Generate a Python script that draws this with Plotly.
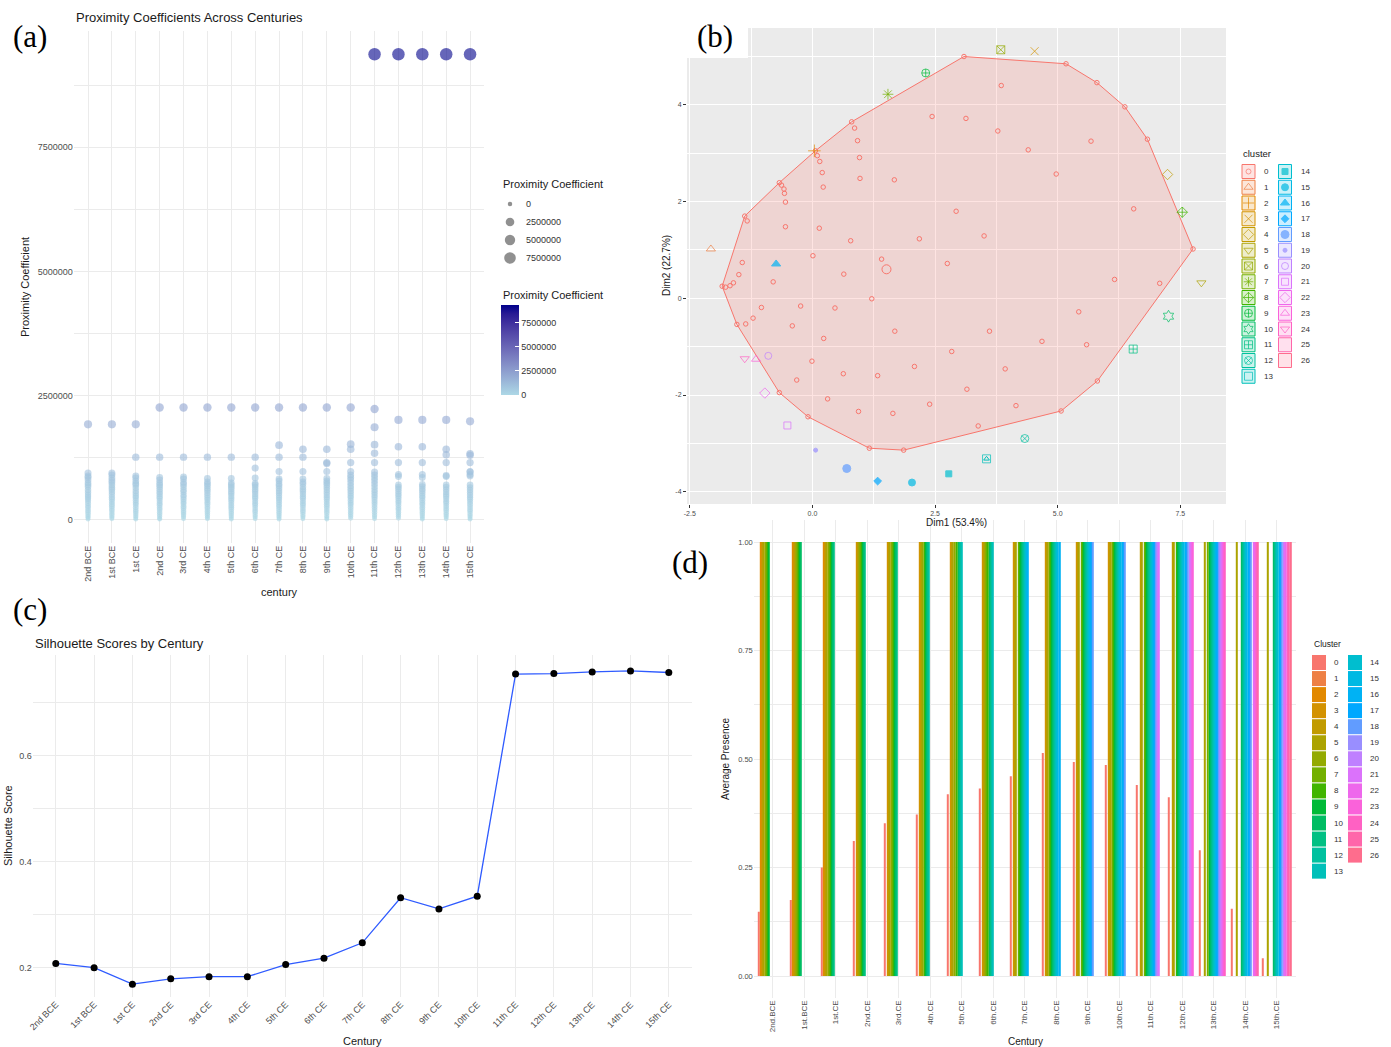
import math
import plotly.graph_objects as go

W, H = 1391, 1047

# ---------------- data ----------------
centuries = ["2nd BCE", "1st BCE", "1st CE", "2nd CE", "3rd CE", "4th CE", "5th CE", "6th CE",
             "7th CE", "8th CE", "9th CE", "10th CE", "11th CE", "12th CE", "13th CE", "14th CE", "15th CE"]

# (a) proximity coefficients, in millions, per century
prox_2nd_bce = [1.92, 0.94, 0.88, 0.85, 0.80, 0.74, 0.70, 0.66, 0.60, 0.55, 0.50, 0.46, 0.42, 0.38, 0.33, 0.28, 0.24, 0.19, 0.15, 0.11, 0.07, 0.04, 0.01]
prox_1st_bce = [1.92, 0.94, 0.90, 0.84, 0.79, 0.75, 0.70, 0.65, 0.61, 0.56, 0.51, 0.45, 0.41, 0.36, 0.31, 0.27, 0.22, 0.18, 0.13, 0.09, 0.05, 0.02]
prox_1st_ce = [1.92, 1.26, 0.88, 0.84, 0.78, 0.73, 0.70, 0.64, 0.58, 0.53, 0.48, 0.44, 0.39, 0.34, 0.30, 0.25, 0.20, 0.16, 0.12, 0.08, 0.04, 0.01]
prox_2nd_ce = [2.26, 1.26, 0.85, 0.80, 0.74, 0.70, 0.66, 0.61, 0.56, 0.52, 0.47, 0.43, 0.38, 0.33, 0.29, 0.24, 0.20, 0.15, 0.11, 0.07, 0.03, 0.01]
prox_3rd_ce = [2.26, 1.26, 0.86, 0.82, 0.75, 0.71, 0.66, 0.60, 0.56, 0.50, 0.46, 0.41, 0.36, 0.32, 0.27, 0.23, 0.18, 0.14, 0.10, 0.06, 0.02]
prox_4th_ce = [2.26, 1.26, 0.83, 0.76, 0.72, 0.68, 0.63, 0.59, 0.54, 0.49, 0.44, 0.40, 0.35, 0.31, 0.26, 0.22, 0.17, 0.13, 0.09, 0.05, 0.02]
prox_5th_ce = [2.26, 1.26, 0.83, 0.74, 0.70, 0.66, 0.62, 0.57, 0.53, 0.48, 0.43, 0.39, 0.34, 0.29, 0.25, 0.21, 0.16, 0.12, 0.08, 0.04, 0.01]
prox_6th_ce = [2.26, 1.26, 1.04, 0.84, 0.73, 0.70, 0.66, 0.61, 0.57, 0.52, 0.47, 0.43, 0.38, 0.33, 0.29, 0.24, 0.19, 0.15, 0.10, 0.06, 0.02]
prox_7th_ce = [2.26, 1.50, 1.26, 0.97, 0.82, 0.78, 0.72, 0.68, 0.63, 0.58, 0.54, 0.49, 0.44, 0.40, 0.35, 0.30, 0.26, 0.21, 0.16, 0.12, 0.08, 0.04, 0.01]
prox_8th_ce = [2.26, 1.42, 1.26, 0.97, 0.82, 0.76, 0.72, 0.66, 0.61, 0.57, 0.52, 0.47, 0.43, 0.38, 0.33, 0.29, 0.24, 0.19, 0.15, 0.10, 0.06, 0.02]
prox_9th_ce = [2.26, 1.42, 1.15, 1.13, 0.97, 0.83, 0.78, 0.74, 0.70, 0.65, 0.60, 0.55, 0.50, 0.45, 0.41, 0.36, 0.31, 0.27, 0.22, 0.17, 0.13, 0.08, 0.04, 0.01]
prox_10th_ce = [2.26, 1.52, 1.42, 1.15, 0.97, 0.90, 0.85, 0.80, 0.74, 0.68, 0.63, 0.58, 0.53, 0.48, 0.44, 0.39, 0.34, 0.30, 0.25, 0.20, 0.15, 0.11, 0.07, 0.03]
prox_11th_ce = [9.37, 2.23, 1.86, 1.51, 1.34, 1.15, 0.96, 0.90, 0.84, 0.78, 0.72, 0.66, 0.60, 0.55, 0.50, 0.45, 0.40, 0.35, 0.30, 0.25, 0.20, 0.15, 0.10, 0.06, 0.02]
prox_12th_ce = [9.37, 2.01, 1.47, 1.15, 0.91, 0.87, 0.70, 0.66, 0.62, 0.57, 0.52, 0.48, 0.43, 0.38, 0.34, 0.29, 0.24, 0.20, 0.15, 0.11, 0.07, 0.03]
prox_13th_ce = [9.37, 2.01, 1.47, 1.15, 0.91, 0.85, 0.71, 0.67, 0.62, 0.58, 0.53, 0.48, 0.44, 0.39, 0.34, 0.30, 0.25, 0.21, 0.16, 0.12, 0.08, 0.04, 0.01]
prox_14th_ce = [9.37, 2.01, 1.42, 1.31, 1.15, 0.89, 0.87, 0.70, 0.66, 0.61, 0.56, 0.51, 0.47, 0.42, 0.37, 0.33, 0.28, 0.23, 0.19, 0.14, 0.10, 0.06, 0.02]
prox_15th_ce = [9.37, 1.98, 1.33, 1.30, 1.15, 0.97, 0.96, 0.91, 0.88, 0.70, 0.65, 0.60, 0.55, 0.50, 0.45, 0.41, 0.36, 0.31, 0.26, 0.21, 0.17, 0.12, 0.08, 0.04, 0.01]
prox_by_century = [prox_2nd_bce, prox_1st_bce, prox_1st_ce, prox_2nd_ce, prox_3rd_ce, prox_4th_ce,
                   prox_5th_ce, prox_6th_ce, prox_7th_ce, prox_8th_ce, prox_9th_ce, prox_10th_ce,
                   prox_11th_ce, prox_12th_ce, prox_13th_ce, prox_14th_ce, prox_15th_ce]
prox_legend_values = [0, 2500000, 5000000, 7500000]

# (b) cluster plot (PCA coordinates)
cluster0_x = [-1.84, -1.38, -0.675, 0.06, 0.80, 3.09, 5.17, 5.80, 6.37, 6.83, 7.76, 5.81, 5.07, 1.86, 1.16, -0.09, -0.675, -1.54,
              3.85, 2.44, 3.13, 3.78, 4.40, 5.68, 4.97, 0.86, 0.92, 0.96, 0.97, 1.67, 0.10, 0.15, 0.20, 0.22,
              -0.63, -0.58, -0.57, -0.55, -1.33, -0.55, 0.14, 0.78, 2.18, 2.93, 3.50, 6.55, 6.16, -1.43, -1.50,
              0.01, 0.64, 1.41, 2.75, -1.77, -1.68, -1.61, -0.80, -1.04, -0.24, 0.46, 1.21, -1.36, -1.21, -0.41,
              0.23, 1.68, 3.61, 4.68, 5.59, 5.43, 7.08, -0.01, 2.08, 2.84, 3.93, -0.32, 0.63, 1.33, 3.15, 0.31,
              2.39, 4.15, 0.94, 1.64, 3.38]
cluster0_y = [0.25, 1.70, 2.39, 3.05, 3.65, 5.00, 4.85, 4.46, 3.96, 3.29, 1.02, -1.71, -2.33, -3.14, -3.10, -2.45, -1.95, -0.54,
              4.40, 3.76, 3.72, 3.46, 3.07, 3.25, 2.57, 3.52, 3.26, 2.91, 2.48, 2.45, 2.95, 2.83, 2.60, 2.30,
              2.34, 2.26, 2.17, 1.99, 1.60, 1.48, 1.45, 1.19, 1.23, 1.80, 1.29, 1.85, 0.39, 0.74, 0.49,
              0.88, 0.50, 0.81, 0.72, 0.23, 0.26, 0.32, 0.34, -0.19, -0.16, -0.20, -0.01, -0.53, -0.41, -0.57,
              -0.83, -0.68, -0.68, -0.89, -0.96, -0.28, 0.31, -1.30, -1.41, -1.10, -1.46, -1.69, -1.56, -1.60, -1.88, -2.08,
              -2.19, -2.22, -2.34, -2.38, -2.64]
cluster0_centre_x = [1.51]
cluster0_centre_y = [0.60]
outlier_clusters = [1, 2, 3, 4, 5, 6, 7, 8, 9, 10, 11, 12, 13, 14, 15, 16, 17, 18, 19, 20, 21, 22, 23, 24]
outlier_x = [-2.07, 0.04, 4.53, 7.24, 7.93, 3.84, 1.54, 7.54, 2.31, 7.26, 6.54, 4.33, 3.55, 2.78, 2.03, -0.74, 1.33, 0.70, 0.065, -0.90, -0.51, -0.97, -1.15, -1.38]
outlier_y = [1.02, 3.05, 5.11, 2.56, 0.32, 5.14, 4.22, 1.78, 4.66, -0.37, -1.05, -2.90, -3.32, -3.63, -3.81, 0.71, -3.78, -3.52, -3.14, -1.19, -2.63, -1.96, -1.26, -1.25]
dim1_label = "Dim1 (53.4%)"
dim2_label = "Dim2 (22.7%)"

# (c) silhouette scores
silhouette = [0.208, 0.200, 0.169, 0.179, 0.183, 0.183, 0.206, 0.218, 0.247, 0.332, 0.311, 0.335,
              0.754, 0.755, 0.758, 0.760, 0.757]

# (d) average presence of clusters per century
cluster_ids = list(range(27))
cluster0_presence = [0.148, 0.175, 0.25, 0.311, 0.352, 0.372, 0.419, 0.432, 0.46, 0.514, 0.493, 0.486,
                     0.44, 0.412, 0.29, 0.155, 0.041]
present_clusters = [
    [2, 3, 4, 5, 6, 7, 8, 9],
    [2, 3, 4, 5, 6, 7, 8, 9, 10],
    [2, 3, 4, 5, 6, 7, 8, 9, 10, 11],
    [3, 4, 5, 6, 7, 8, 9, 10, 11],
    [3, 4, 5, 6, 7, 8, 9, 10, 11],
    [3, 4, 5, 6, 8, 9, 10, 11, 12],
    [3, 4, 5, 6, 8, 10, 11, 12, 13],
    [3, 4, 5, 6, 7, 8, 10, 11, 12, 13],
    [3, 4, 5, 7, 8, 9, 10, 11, 12, 13, 14, 15, 16],
    [3, 4, 5, 7, 8, 9, 10, 11, 12, 13, 14, 15, 16],
    [3, 4, 5, 7, 8, 9, 10, 11, 12, 13, 14, 15, 16, 17, 18],
    [3, 4, 5, 7, 8, 9, 10, 11, 12, 13, 14, 15, 16, 17, 18],
    [4, 5, 7, 8, 9, 10, 11, 12, 13, 14, 15, 16, 17, 18, 19, 20, 21],
    [4, 5, 8, 9, 10, 11, 12, 13, 14, 15, 16, 17, 18, 20, 21, 22, 23],
    [5, 7, 9, 10, 11, 12, 13, 14, 15, 16, 17, 18, 19, 20, 21, 22, 23, 24],
    [5, 10, 11, 12, 13, 14, 15, 16, 17, 18, 21, 22, 23, 24, 25],
    [5, 10, 11, 12, 13, 14, 16, 17, 18, 20, 21, 22, 24, 25, 26],
]

# ---------------- helpers ----------------
def px(x):
    return x / W


def py(y):
    return 1 - y / H


def hcl_hex(h, c, l):
    hr = math.radians(h)
    u, v = c * math.cos(hr), c * math.sin(hr)
    Xn, Yn, Zn = 95.047, 100.0, 108.883
    den = Xn + 15 * Yn + 3 * Zn
    un, vn = 4 * Xn / den, 9 * Yn / den
    Y = Yn * ((l + 16) / 116) ** 3 if l > 8 else Yn * l / 903.3
    up, vp = u / (13 * l) + un, v / (13 * l) + vn
    X = Y * 9 * up / (4 * vp)
    Z = Y * (12 - 3 * up - 20 * vp) / (4 * vp)
    return xyz_hex(X / 100, Y / 100, Z / 100)


def xyz_hex(X, Y, Z):
    r = 3.2404542 * X - 1.5371385 * Y - 0.4985314 * Z
    g = -0.9692660 * X + 1.8760108 * Y + 0.0415560 * Z
    b = 0.0556434 * X - 0.2040259 * Y + 1.0572252 * Z

    def gam(t):
        t = max(0.0, min(1.0, t))
        return 12.92 * t if t <= 0.0031308 else 1.055 * t ** (1 / 2.4) - 0.055
    return "#%02X%02X%02X" % tuple(int(round(255 * gam(t))) for t in (r, g, b))


def hex_lab(hx):
    rgb = [int(hx[i:i + 2], 16) / 255 for i in (1, 3, 5)]
    lin = [t / 12.92 if t <= 0.04045 else ((t + 0.055) / 1.055) ** 2.4 for t in rgb]
    X = 0.4124564 * lin[0] + 0.3575761 * lin[1] + 0.1804375 * lin[2]
    Y = 0.2126729 * lin[0] + 0.7151522 * lin[1] + 0.0721750 * lin[2]
    Z = 0.0193339 * lin[0] + 0.1191920 * lin[1] + 0.9503041 * lin[2]
    xn, yn, zn = 0.95047, 1.0, 1.08883

    def f(t):
        return t ** (1 / 3) if t > 0.008856 else 7.787 * t + 16 / 116
    fx, fy, fz = f(X / xn), f(Y / yn), f(Z / zn)
    return 116 * fy - 16, 500 * (fx - fy), 200 * (fy - fz)


def lab_hex(L, a, b):
    fy = (L + 16) / 116
    fx, fz = fy + a / 500, fy - b / 200

    def finv(t):
        return t ** 3 if t ** 3 > 0.008856 else (t - 16 / 116) / 7.787
    return xyz_hex(0.95047 * finv(fx), finv(fy), 1.08883 * finv(fz))


def hex_rgba(hx, a):
    return "rgba(%d,%d,%d,%s)" % (int(hx[1:3], 16), int(hx[3:5], 16), int(hx[5:7], 16), a)


def convex_hull(pts):
    pts = sorted(set(pts))

    def cross(o, a, b):
        return (a[0] - o[0]) * (b[1] - o[1]) - (a[1] - o[1]) * (b[0] - o[0])
    lower, upper = [], []
    for p in pts:
        while len(lower) >= 2 and cross(lower[-2], lower[-1], p) <= 0:
            lower.pop()
        lower.append(p)
    for p in reversed(pts):
        while len(upper) >= 2 and cross(upper[-2], upper[-1], p) <= 0:
            upper.pop()
        upper.append(p)
    return lower[:-1] + upper[:-1]


palette = [hcl_hex(15 + 360 * k / 27, 100, 65) for k in range(27)]

FONT = "Liberation Sans, Arial, sans-serif"
SERIF = "Liberation Serif, Times New Roman, serif"
TICK = "#4D4D4D"
GRID = "#EBEBEB"

annotations = []
shapes = []


def ann(text, x, y, size, xanchor="center", yanchor="middle", angle=0, color="#1A1A1A", family=FONT):
    annotations.append(dict(text=text, x=px(x), y=py(y), xref="paper", yref="paper", showarrow=False,
                            xanchor=xanchor, yanchor=yanchor, textangle=angle,
                            font=dict(size=size, color=color, family=family)))


traces = []

# ---------------- (a) ----------------
lab0, lab1 = hex_lab("#ADD8E6"), hex_lab("#00008B")
colorscale = []
for i in range(11):
    t = i / 10
    colorscale.append([t, lab_hex(*[lab0[j] + (lab1[j] - lab0[j]) * t for j in range(3)])])

a_x, a_y = [], []
for c, vals in zip(centuries, prox_by_century):
    for v in vals:
        a_x.append(c)
        a_y.append(v * 1e6)
PC_MAX = max(a_y)


def pc_size(v):
    return 4.5 + 8 * math.sqrt(v / PC_MAX)


traces.append(go.Scatter(
    x=a_x, y=a_y, mode="markers", xaxis="x", yaxis="y",
    marker=dict(size=[pc_size(v) for v in a_y], color=a_y, colorscale=colorscale, cmin=0, cmax=PC_MAX,
                opacity=0.6, line=dict(width=0),
                colorbar=dict(x=px(501), xanchor="left", xpad=0, y=py(350), yanchor="middle", ypad=0,
                              len=90, lenmode="pixels", thickness=18, thicknessmode="pixels",
                              outlinewidth=0, tickvals=prox_legend_values,
                              ticktext=[str(v) for v in prox_legend_values],
                              ticks="inside", ticklen=4, tickcolor="white",
                              tickfont=dict(size=9, color="#333333", family=FONT)))))

# size legend (overlay pixel axis)
size_leg_y = [204, 222, 240, 258]
traces.append(go.Scatter(x=[510] * 4, y=size_leg_y, mode="markers", xaxis="x5", yaxis="y5",
                         marker=dict(size=[pc_size(v) for v in prox_legend_values], color="rgba(0,0,0,0.62)",
                                     line=dict(width=0))))
for v, yy in zip(prox_legend_values, size_leg_y):
    ann(str(v), 524, yy, 9, xanchor="left", color="#333333")
ann("Proximity Coefficient", 501, 184, 11, xanchor="left")
ann("Proximity Coefficient", 501, 295, 11, xanchor="left")
ann("Proximity Coefficients Across Centuries", 74, 18, 13, xanchor="left")
ann("Proximity Coefficient", 25, 287, 11, angle=-90)
ann("century", 279, 592, 11)

# ---------------- (b) ----------------
hull = convex_hull(list(zip(cluster0_x, cluster0_y)))
hull.append(hull[0])
traces.append(go.Scatter(x=[p[0] for p in hull], y=[p[1] for p in hull], mode="lines", fill="toself",
                         fillcolor=hex_rgba(palette[0], 0.2), line=dict(color=palette[0], width=1),
                         xaxis="x2", yaxis="y2"))
traces.append(go.Scatter(x=cluster0_x, y=cluster0_y, mode="markers", xaxis="x2", yaxis="y2",
                         marker=dict(symbol="circle-open", size=4.5, color=palette[0],
                                     line=dict(width=1, color=palette[0]))))
traces.append(go.Scatter(x=cluster0_centre_x, y=cluster0_centre_y, mode="markers", xaxis="x2", yaxis="y2",
                         marker=dict(symbol="circle-open", size=9, color=palette[0],
                                     line=dict(width=1, color=palette[0]))))

cluster_symbols = ["circle-open", "triangle-up-open", "cross-thin-open", "x-thin-open", "diamond-open",
                   "triangle-down-open", "square-x-open", "asterisk-open", "diamond-cross-open",
                   "circle-cross-open", "hexagram-open", "square-cross-open", "circle-x-open",
                   "square-open", "square", "circle", "triangle-up", "diamond", "circle", "circle",
                   "circle-open", "square-open", "diamond-open", "triangle-up-open", "triangle-down-open",
                   None, None]
cluster_sizes = [5, 8, 9, 8, 8, 8, 8, 9, 8, 8, 9, 8, 8, 8, 6, 7, 8, 6, 8, 4, 7, 7, 8, 8, 8, 0, 0]

traces.append(go.Scatter(
    x=outlier_x, y=outlier_y, mode="markers", xaxis="x2", yaxis="y2",
    marker=dict(symbol=[cluster_symbols[k] for k in outlier_clusters],
                size=[cluster_sizes[k] for k in outlier_clusters],
                color=[palette[k] for k in outlier_clusters],
                line=dict(width=1, color=[palette[k] for k in outlier_clusters]))))
i13 = outlier_clusters.index(13)
traces.append(go.Scatter(x=[outlier_x[i13]], y=[outlier_y[i13]], mode="markers", xaxis="x2", yaxis="y2",
                         marker=dict(symbol="triangle-up-open", size=5, color=palette[13],
                                     line=dict(width=1, color=palette[13]))))

# panel background and label box
shapes.append(dict(type="rect", xref="paper", yref="paper", x0=px(687), x1=px(1226), y0=py(504), y1=py(28),
                   fillcolor="#EBEBEB", line=dict(width=0), layer="below"))
shapes.append(dict(type="rect", xref="paper", yref="paper", x0=px(679), x1=px(748), y0=py(58), y1=py(0),
                   fillcolor="white", line=dict(width=0), layer="above"))

# (b) legend
leg_b_x, leg_b_y, leg_b_sym, leg_b_size, leg_b_col = [], [], [], [], []
for k in cluster_ids:
    col, row = (0, k) if k <= 13 else (1, k - 14)
    x0 = 1242 + 36.5 * col
    yc = 171.5 + 15.75 * row
    shapes.append(dict(type="rect", xref="paper", yref="paper", x0=px(x0), x1=px(x0 + 13),
                       y0=py(yc + 7), y1=py(yc - 7), fillcolor=hex_rgba(palette[k], 0.2),
                       line=dict(color=palette[k], width=1), layer="above"))
    ann(str(k), x0 + 20, yc, 8, xanchor="left", color="#333333")
    if cluster_symbols[k] is not None:
        leg_b_x.append(x0 + 6.5)
        leg_b_y.append(yc)
        leg_b_sym.append(cluster_symbols[k])
        leg_b_size.append(min(cluster_sizes[k], 8))
        leg_b_col.append(palette[k])
traces.append(go.Scatter(x=leg_b_x, y=leg_b_y, mode="markers", xaxis="x5", yaxis="y5",
                         marker=dict(symbol=leg_b_sym, size=leg_b_size, color=leg_b_col,
                                     line=dict(width=1, color=leg_b_col))))
ann("cluster", 1241, 154, 9.5, xanchor="left")
ann(dim1_label, 956.5, 522, 10)
ann(dim2_label, 666, 266, 10, angle=-90)

# ---------------- (c) ----------------
traces.append(go.Scatter(x=centuries, y=silhouette, mode="lines", xaxis="x3", yaxis="y3",
                         line=dict(color="#2F5BFF", width=1.3)))
traces.append(go.Scatter(x=centuries, y=silhouette, mode="markers", xaxis="x3", yaxis="y3",
                         marker=dict(color="black", size=7)))
ann("Silhouette Scores by Century", 33, 643, 13, xanchor="left")
ann("Silhouette Score", 8, 826, 11, angle=-90)
ann("Century", 362, 1041, 11)

# ---------------- (d) ----------------
d_labels = [c.replace(" ", ".") for c in centuries]
for k in cluster_ids:
    if k == 0:
        yv = cluster0_presence
    else:
        yv = [1.0 if k in pcs else 0.0 for pcs in present_clusters]
    traces.append(go.Bar(x=d_labels, y=yv, xaxis="x4", yaxis="y4", marker=dict(color=palette[k], line=dict(width=0))))

for k in cluster_ids:
    col, row = (0, k) if k <= 13 else (1, k - 14)
    x0 = 1312 + 36 * col
    yc = 662.5 + 16.05 * row
    shapes.append(dict(type="rect", xref="paper", yref="paper", x0=px(x0), x1=px(x0 + 14),
                       y0=py(yc + 7.5), y1=py(yc - 7.5), fillcolor=palette[k], line=dict(width=0), layer="above"))
    ann(str(k), x0 + 20, yc, 8, xanchor="left", color="#333333")
ann("Cluster", 1312, 644, 8.5, xanchor="left")
ann("Average Presence", 725, 759, 10, angle=-90)
ann("Century", 1025, 1041, 10)

# panel tags
ann("(a)", 29.5, 37, 31, family=SERIF, color="black")
ann("(b)", 715, 37, 31, family=SERIF, color="black")
ann("(c)", 29.5, 609, 31, family=SERIF, color="black")
ann("(d)", 690, 562, 31, family=SERIF, color="black")

# ---------------- layout ----------------
common = dict(zeroline=False, showline=False, ticks="", tickfont=dict(size=9, color=TICK, family=FONT),
              gridcolor=GRID, gridwidth=1)

layout = go.Layout(
    width=W, height=H, margin=dict(l=0, r=0, t=0, b=0, autoexpand=False),
    paper_bgcolor="white", plot_bgcolor="rgba(0,0,0,0)", showlegend=False, hovermode=False,
    font=dict(family=FONT, color="#1A1A1A"),
    barmode="group", bargap=0.1, bargroupgap=0,
    xaxis=dict(domain=[px(73.7), px(484.4)], anchor="y", type="category", categoryorder="array",
               categoryarray=centuries, range=[-0.6, 16.6], tickangle=-90, **common),
    yaxis=dict(domain=[py(543), py(31)], anchor="x", range=[-0.05 * 9.37e6, 1.05 * 9.37e6],
               tickvals=prox_legend_values, ticktext=[str(v) for v in prox_legend_values],
               minor=dict(showgrid=True, gridcolor=GRID, gridwidth=0.6,
                          tickvals=[1250000, 3750000, 6250000, 8750000]), **common),
    xaxis2=dict(domain=[px(687), px(1226)], anchor="y2", range=[-2.557, 8.432],
                tickvals=[-2.5, 0, 2.5, 5, 7.5], ticktext=["-2.5", "0.0", "2.5", "5.0", "7.5"],
                zeroline=False, showline=False, ticks="outside", ticklen=3, tickcolor="#333333",
                tickfont=dict(size=7, color=TICK, family=FONT), gridcolor="white", gridwidth=1.1,
                minor=dict(showgrid=True, gridcolor="white", gridwidth=0.5, tickvals=[-1.25, 1.25, 3.75, 6.25])),
    yaxis2=dict(domain=[py(504), py(28)], anchor="x2", range=[-4.254, 5.590],
                tickvals=[-4, -2, 0, 2, 4], ticktext=["-4", "-2", "0", "2", "4"],
                zeroline=False, showline=False, ticks="outside", ticklen=3, tickcolor="#333333",
                tickfont=dict(size=7, color=TICK, family=FONT), gridcolor="white", gridwidth=1.1,
                minor=dict(showgrid=True, gridcolor="white", gridwidth=0.5, tickvals=[-3, -1, 1, 3, 5])),
    xaxis3=dict(domain=[px(32.8), px(691.8)], anchor="y3", type="category", categoryorder="array",
                categoryarray=centuries, range=[-0.6, 16.6], tickangle=-45, **common),
    yaxis3=dict(domain=[py(996.7), py(655)], anchor="x3", range=[0.1453, 0.790],
                tickvals=[0.2, 0.4, 0.6], ticktext=["0.2", "0.4", "0.6"],
                minor=dict(showgrid=True, gridcolor=GRID, gridwidth=0.6, tickvals=[0.3, 0.5, 0.7]), **common),
    xaxis4=dict(domain=[px(753.8), px(1295.6)], anchor="y4", type="category", categoryorder="array",
                categoryarray=d_labels, range=[-0.6, 16.6], tickangle=-90, zeroline=False, showline=False,
                ticks="", tickfont=dict(size=8, color=TICK, family=FONT), gridcolor=GRID, gridwidth=1),
    yaxis4=dict(domain=[py(997.7), py(520.3)], anchor="x4", range=[-0.05, 1.05],
                tickvals=[0, 0.25, 0.5, 0.75, 1.0], ticktext=["0.00", "0.25", "0.50", "0.75", "1.00"],
                zeroline=False, showline=False, ticks="", tickfont=dict(size=7.5, color=TICK, family=FONT),
                gridcolor=GRID, gridwidth=1,
                minor=dict(showgrid=True, gridcolor=GRID, gridwidth=0.6, tickvals=[0.125, 0.375, 0.625, 0.875])),
    xaxis5=dict(domain=[0, 1], anchor="y5", range=[0, W], visible=False, fixedrange=True),
    yaxis5=dict(domain=[0, 1], anchor="x5", range=[H, 0], visible=False, fixedrange=True),
    annotations=annotations, shapes=shapes,
)

fig = go.Figure(data=traces, layout=layout)
fig.write_html("out.html")
